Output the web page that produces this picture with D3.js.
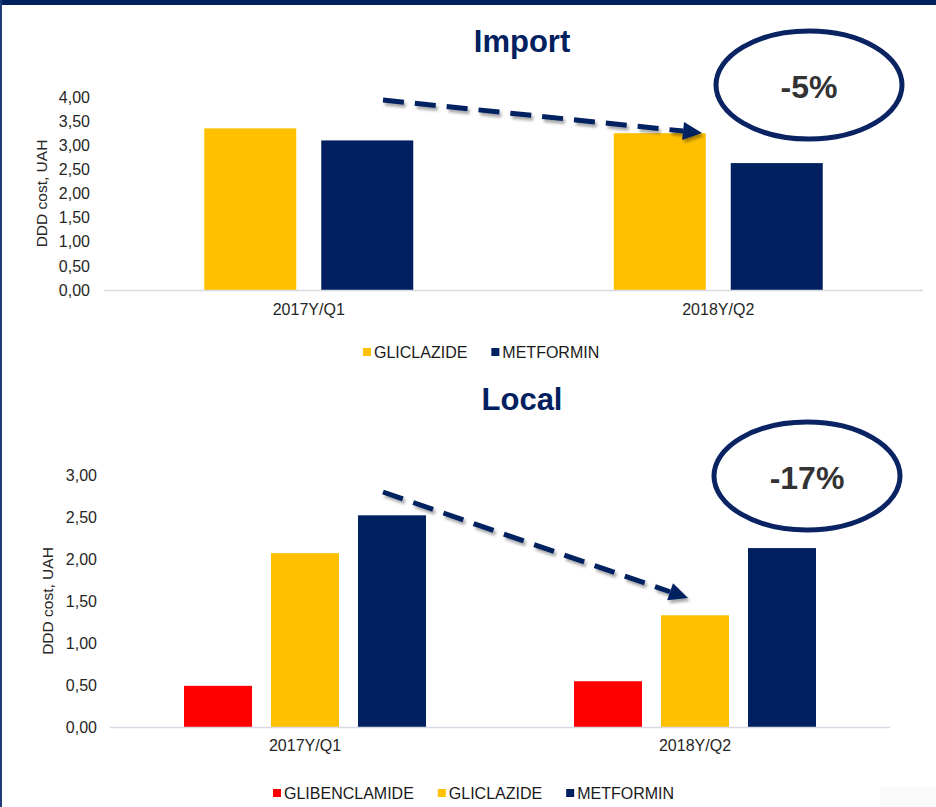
<!DOCTYPE html>
<html>
<head>
<meta charset="utf-8">
<script src="https://cdn.jsdelivr.net/npm/d3@7"></script>
<style>
  html, body { margin: 0; padding: 0; background: #fff; }
  svg { display: block; font-family: "Liberation Sans", Arial, sans-serif; }
</style>
</head>
<body>
<div id="chart"></div>
<script>
const categories = ['2017Y/Q1', '2018Y/Q2'];

const importSeries = ['GLICLAZIDE', 'METFORMIN'];
const importGliclazide = [3.35, 3.25];
const importMetformin = [3.10, 2.63];
const importTicks = [0, 0.5, 1, 1.5, 2, 2.5, 3, 3.5, 4];

const localSeries = ['GLIBENCLAMIDE', 'GLICLAZIDE', 'METFORMIN'];
const localGlibenclamide = [0.49, 0.545];
const localGliclazide = [2.07, 1.33];
const localMetformin = [2.52, 2.13];
const localTicks = [0, 0.5, 1, 1.5, 2, 2.5, 3];

const colors = { GLIBENCLAMIDE: '#ff0000', GLICLAZIDE: '#ffc000', METFORMIN: '#002060' };
const navy = '#002060';
const fmt = v => d3.format('.2f')(v).replace('.', ',');

const svg = d3.select('#chart')
  .append('svg')
  .attr('width', 936)
  .attr('height', 807);

// shadow for the dashed arrows
const defs = svg.append('defs');
defs.append('filter')
    .attr('id', 'shadow')
    .attr('x', '-10%').attr('y', '-50%')
    .attr('width', '120%').attr('height', '200%')
  .append('feDropShadow')
    .attr('dx', 2).attr('dy', 3)
    .attr('stdDeviation', 1.6)
    .attr('flood-color', '#000')
    .attr('flood-opacity', 0.35);

// frame
svg.append('rect').attr('x', 0).attr('y', 0).attr('width', 936).attr('height', 5).attr('fill', navy);
svg.append('rect').attr('x', 0).attr('y', 0).attr('width', 2).attr('height', 807).attr('fill', '#1f3b78');
svg.append('rect').attr('x', 880).attr('y', 787).attr('width', 56).attr('height', 20).attr('fill', '#fafafa');

function drawPanel(p) {
  const g = svg.append('g');

  const x0 = d3.scaleBand().domain(categories).range([p.left, p.right]);
  const n = p.series.length;
  const groupW = n * p.barW + (n - 1) * p.gap;
  const off = (x0.bandwidth() - groupW) / 2;
  const x1 = d3.scaleBand().domain(p.series)
    .range([off, off + groupW])
    .paddingInner(p.gap / (p.barW + p.gap))
    .paddingOuter(0);
  const y = d3.scaleLinear().domain([0, d3.max(p.ticks)]).range([p.bottom, p.top]);

  // title
  g.append('text')
    .attr('x', 522).attr('y', p.titleY)
    .attr('text-anchor', 'middle')
    .attr('font-size', 31).attr('font-weight', 'bold')
    .attr('fill', navy)
    .text(p.title);

  // y axis labels
  const ya = g.append('g')
    .attr('transform', `translate(${p.left},0)`)
    .call(d3.axisLeft(y).tickValues(p.ticks).tickFormat(fmt).tickSize(0).tickPadding(p.tickPad));
  ya.select('.domain').remove();
  ya.selectAll('text').attr('font-size', 16).attr('fill', '#262626')
    .attr('font-family', '"Liberation Sans", Arial, sans-serif');

  g.append('text')
    .attr('transform', `translate(${p.yTitleX},${(p.top + p.bottom) / 2}) rotate(-90)`)
    .attr('text-anchor', 'middle')
    .attr('dy', '0.35em')
    .attr('font-size', 15.5).attr('fill', '#262626')
    .text('DDD cost, UAH');

  // bars
  const rows = categories.map((c, i) => ({ cat: c, vals: p.series.map((s, k) => ({ s, v: p.values[k][i] })) }));
  g.selectAll('.grp')
    .data(rows)
    .enter().append('g')
      .attr('class', 'grp')
      .attr('transform', d => `translate(${x0(d.cat)},0)`)
    .selectAll('rect')
    .data(d => d.vals)
    .enter().append('rect')
      .attr('x', d => x1(d.s))
      .attr('width', x1.bandwidth())
      .attr('y', d => y(d.v))
      .attr('height', d => y(0) - y(d.v))
      .attr('fill', d => colors[d.s]);

  // baseline
  g.append('line')
    .attr('x1', p.left).attr('x2', p.right)
    .attr('y1', y(0) + 0.5).attr('y2', y(0) + 0.5)
    .attr('stroke', '#d9d9e3').attr('stroke-width', 1.6);

  // category labels
  g.selectAll('.cat')
    .data(categories)
    .enter().append('text')
      .attr('class', 'cat')
      .attr('x', d => x0(d) + x0.bandwidth() / 2)
      .attr('y', p.catY)
      .attr('text-anchor', 'middle')
      .attr('font-size', 16).attr('fill', '#262626')
      .text(d => d);

  // legend
  let lx = p.legendX;
  p.series.forEach(s => {
    g.append('rect')
      .attr('x', lx).attr('y', p.legendY - 4)
      .attr('width', 8).attr('height', 8)
      .attr('fill', colors[s]);
    const t = g.append('text')
      .attr('x', lx + 11).attr('y', p.legendY)
      .attr('dy', '0.35em')
      .attr('font-size', 16).attr('fill', '#1a1a1a')
      .text(s);
    lx += 11 + t.node().getComputedTextLength() + 24;
  });

  // dashed arrow
  const [ax, ay] = p.arrow[0];
  const [bx, by] = p.arrow[1];
  const ang = Math.atan2(by - ay, bx - ax);
  const headL = 19, headW = 9;
  const ex = bx - headL * Math.cos(ang), ey = by - headL * Math.sin(ang);
  const ag = g.append('g').attr('filter', 'url(#shadow)');
  ag.append('line')
    .attr('x1', ax).attr('y1', ay).attr('x2', ex).attr('y2', ey)
    .attr('stroke', navy).attr('stroke-width', 5)
    .attr('stroke-dasharray', '21 11');
  ag.append('path')
    .attr('d', d3.line()([
      [bx, by],
      [ex + headW * Math.sin(ang), ey - headW * Math.cos(ang)],
      [ex - headW * Math.sin(ang), ey + headW * Math.cos(ang)]
    ]) + 'Z')
    .attr('fill', navy);

  // change bubble
  g.append('ellipse')
    .attr('cx', p.bubble[0]).attr('cy', p.bubble[1])
    .attr('rx', 93).attr('ry', 54)
    .attr('fill', 'none')
    .attr('stroke', '#0a2463').attr('stroke-width', 5);
  g.append('text')
    .attr('x', p.bubble[0]).attr('y', p.bubble[1] + 2)
    .attr('text-anchor', 'middle').attr('dy', '0.35em')
    .attr('font-size', 32).attr('font-weight', 'bold')
    .attr('fill', '#333333')
    .text(p.change);
}

drawPanel({
  title: 'Import', titleY: 52,
  series: importSeries,
  values: [importGliclazide, importMetformin],
  ticks: importTicks,
  left: 104, right: 923, top: 97, bottom: 290,
  barW: 92, gap: 25,
  tickPad: 14, yTitleX: 42,
  catY: 315,
  legendX: 363, legendY: 352,
  arrow: [[383, 100], [702, 133]],
  bubble: [809, 85], change: '-5%'
});

drawPanel({
  title: 'Local', titleY: 410,
  series: localSeries,
  values: [localGlibenclamide, localGliclazide, localMetformin],
  ticks: localTicks,
  left: 110, right: 890, top: 475, bottom: 727,
  barW: 68, gap: 19,
  tickPad: 13, yTitleX: 48,
  catY: 751,
  legendX: 273, legendY: 793,
  arrow: [[383, 492], [688, 598]],
  bubble: [807, 476], change: '-17%'
});
</script>
</body>
</html>
